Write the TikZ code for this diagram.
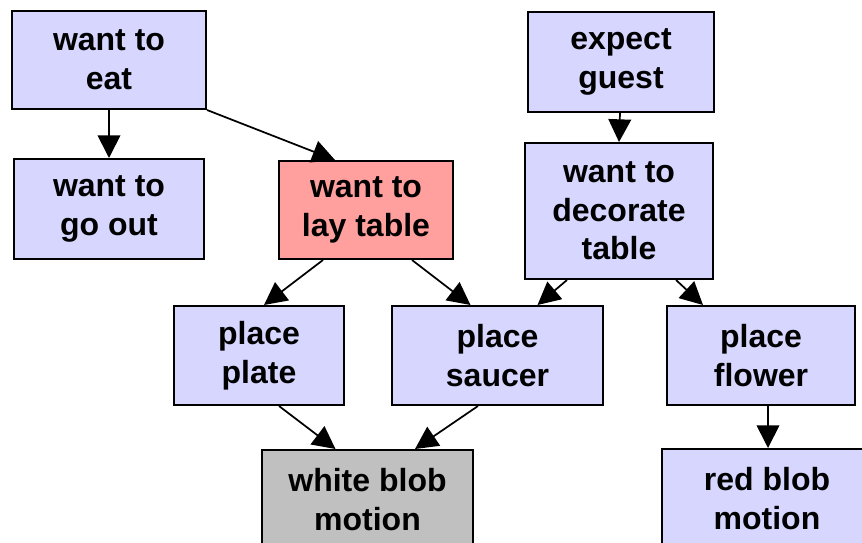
\documentclass[tikz,border=0pt]{standalone}
\usepackage{fontspec}
\setmainfont{Liberation Sans}
\usetikzlibrary{arrows.meta,calc}

\begin{document}
\begin{tikzpicture}[x=0.75pt,y=-0.75pt,
	goal/.style={draw, line width=1.5pt, fill={rgb,255:red,214; green,214; blue,255}, align=center, inner sep=0pt, font=\fontsize{24}{29}\selectfont\bfseries},
	active/.style={goal, fill={rgb,255:red,255; green,160; blue,158}},
	motion/.style={goal, fill={rgb,255:red,192; green,192; blue,192}},
	size/.style 2 args={minimum width=#1*0.75pt, minimum height=#2*0.75pt},
	edge/.style={line width=1.3pt, -{Triangle[length=17pt,width=17pt]}}]
	\clip (0,0) rectangle (862,542);
	% Top goals
	\node[goal, size={194}{98}] at (109,60) (eat) {want to\\eat};
	\node[goal, size={186}{99}] at (621,62) (guest) {expect\\guest};
	% Sub goals
	\node[goal, size={190}{100}] at (109,209) (goout) {want to\\go out};
	\node[active, size={174}{98}] at (366,210) (lay) {want to\\lay table};
	\node[goal, size={188}{136}] at (619,211) (decorate) {want to\\decorate\\table};
	% Actions
	\node[goal, size={170}{99}] at (259,355.5) (plate) {place\\plate};
	\node[goal, size={211}{99}] at (497.5,355.5) (saucer) {place\\saucer};
	\node[goal, size={188}{99}] at (761,355.5) (flower) {place\\flower};
	% Motions
	\node[motion, size={211}{99}] at (367.5,499.5) (white) {white blob\\motion};
	\node[goal, size={210}{99}] at (767,498.5) (red) {red blob\\motion};
	% Edges
	\draw[edge] (eat) -- (goout);
	\draw[edge] (eat.south east) -- ($(lay.north)+(-31,0)$);
	\draw[edge] ($(guest.south)+(-1,0)$) -- (decorate.north);
	\draw[edge] ($(lay.south)+(-43,0)$) -- ($(plate.north)+(5,0)$);
	\draw[edge] ($(lay.south)+(46,0)$) -- ($(saucer.north)+(-27,0)$);
	\draw[edge] ($(decorate.south)+(-52,0)$) -- ($(saucer.north)+(40,0)$);
	\draw[edge] ($(decorate.south)+(57,0)$) -- ($(flower.north)+(-58,0)$);
	\draw[edge] ($(plate.south)+(20,0)$) -- ($(white.north)+(-32,0)$);
	\draw[edge] ($(saucer.south)+(-19.5,0)$) -- ($(white.north)+(47.5,0)$);
	\draw[edge] ($(flower.south)+(7,0)$) -- ($(red.north)+(1,0)$);
\end{tikzpicture}
\end{document}
